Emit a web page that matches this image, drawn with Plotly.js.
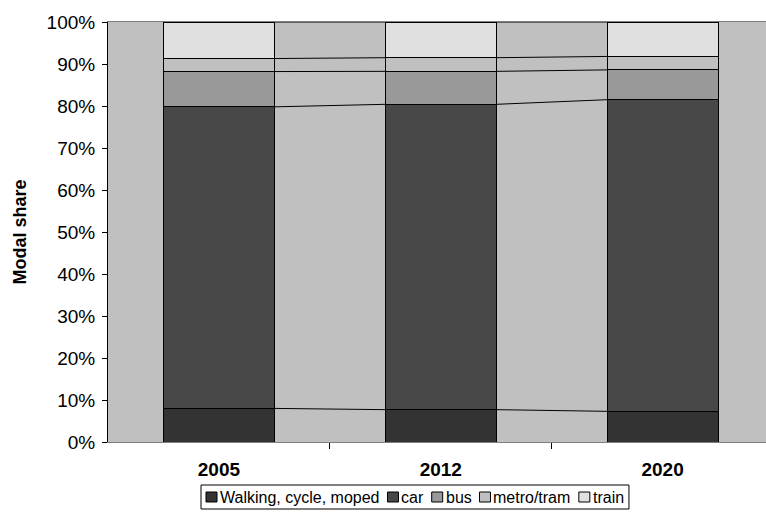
<!DOCTYPE html>
<html>
<head>
<meta charset="utf-8">
<script src="https://cdn.plot.ly/plotly-3.0.1.min.js"></script>
<style>html,body{margin:0;padding:0;background:#fff;}#chart{width:766px;height:516px;}</style>
</head>
<body>
<div id="chart"></div>
<script>
const years = ["2005", "2012", "2020"];
const seriesNames = ["Walking, cycle, moped", "car", "bus", "metro/tram", "train"];
const walking = [8.0, 7.7, 7.3];
const car = [71.8, 72.7, 74.2];
const bus = [8.4, 7.85, 7.1];
const metro = [3.1, 3.25, 3.2];
const train = [8.7, 8.5, 8.2];
const colors = ["#333333", "#484848", "#999999", "#c0c0c0", "#e0e0e0"];

const FONT = "Liberation Sans, Arial, sans-serif";
const W = 766, H = 516;
const M = {l: 108, r: 0, t: 22, b: 74};
const PW = W - M.l - M.r, PH = H - M.t - M.b;

const allSeries = [walking, car, bus, metro, train];
const xs = years.map((_, i) => i);
const traces = [];
allSeries.forEach((vals, k) => {
  traces.push({
    type: "bar", x: xs, y: vals, name: seriesNames[k], width: 0.5,
    marker: {color: colors[k], line: {color: "#000", width: 1}},
    hoverinfo: "y+name", showlegend: false
  });
});
// series lines connecting cumulative tops between bars
const cum = years.map(() => 0);
allSeries.forEach((vals) => {
  vals.forEach((v, i) => { cum[i] += v; });
  const lx = [], ly = [];
  for (let i = 0; i < years.length - 1; i++) {
    lx.push(i + 0.25, i + 0.75, null);
    ly.push(cum[i], cum[i + 1], null);
  }
  traces.push({type: "scatter", mode: "lines", x: lx, y: ly, showlegend: false,
    line: {color: "#000", width: 1}, hoverinfo: "skip"});
});

// custom compact legend (Excel style)
const LEG_FS = 16;
const px2x = (px) => (px - M.l) / PW;
const px2y = (py) => (H - M.b - py) / PH;
const ctx = document.createElement("canvas").getContext("2d");
ctx.font = LEG_FS + "px " + FONT;
const shapes = [], annotations = [];
const legLeft = 201, legTop = 485, legBottom = 509, legMid = 497;
let cx = legLeft + 5;
seriesNames.forEach((nm, k) => {
  shapes.push({type: "rect", xref: "paper", yref: "paper",
    x0: px2x(cx), x1: px2x(cx + 11), y0: px2y(legMid - 5), y1: px2y(legMid + 5),
    fillcolor: colors[k], line: {color: "#000", width: 1}});
  const tx = cx + 13;
  annotations.push({xref: "paper", yref: "paper", x: px2x(tx), y: px2y(legMid),
    xanchor: "left", yanchor: "middle", text: nm, showarrow: false, borderpad: 0,
    font: {size: LEG_FS, family: FONT, color: "#000"}});
  cx = tx + ctx.measureText(nm).width + 9;
});
shapes.push({type: "rect", xref: "paper", yref: "paper", layer: "below",
  x0: px2x(legLeft), x1: px2x(cx - 3), y0: px2y(legTop), y1: px2y(legBottom),
  fillcolor: "#fff", line: {color: "#000", width: 1}});

const layout = {
  width: W, height: H,
  margin: M,
  paper_bgcolor: "#ffffff", plot_bgcolor: "#c0c0c0",
  barmode: "stack",
  font: {family: FONT, color: "#000", size: 18},
  xaxis: {
    range: [-0.5, 2.466], tickmode: "array", tickvals: xs, ticktext: years,
    ticks: "", showgrid: false, zeroline: false, ticklabelstandoff: 10,
    showline: true, linecolor: "#808080", linewidth: 1, mirror: true,
    tickfont: {size: 19, family: FONT, weight: "bold"},
    minor: {tickmode: "array", tickvals: [0.5, 1.5], ticks: "outside", ticklen: 6, tickcolor: "#000", showgrid: false}
  },
  yaxis: {
    range: [0, 100], dtick: 10, ticksuffix: "%", showgrid: false, zeroline: false,
    showline: true, linecolor: "#000", linewidth: 1, ticks: "outside", ticklen: 5, tickcolor: "#000",
    tickfont: {size: 19}, ticklabelstandoff: 3,
    title: {text: "<b>Modal share</b>", font: {size: 18}, standoff: 15}
  },
  showlegend: false,
  shapes: shapes,
  annotations: annotations
};
Plotly.newPlot("chart", traces, layout, {displayModeBar: false, staticPlot: true});
</script>
</body>
</html>
